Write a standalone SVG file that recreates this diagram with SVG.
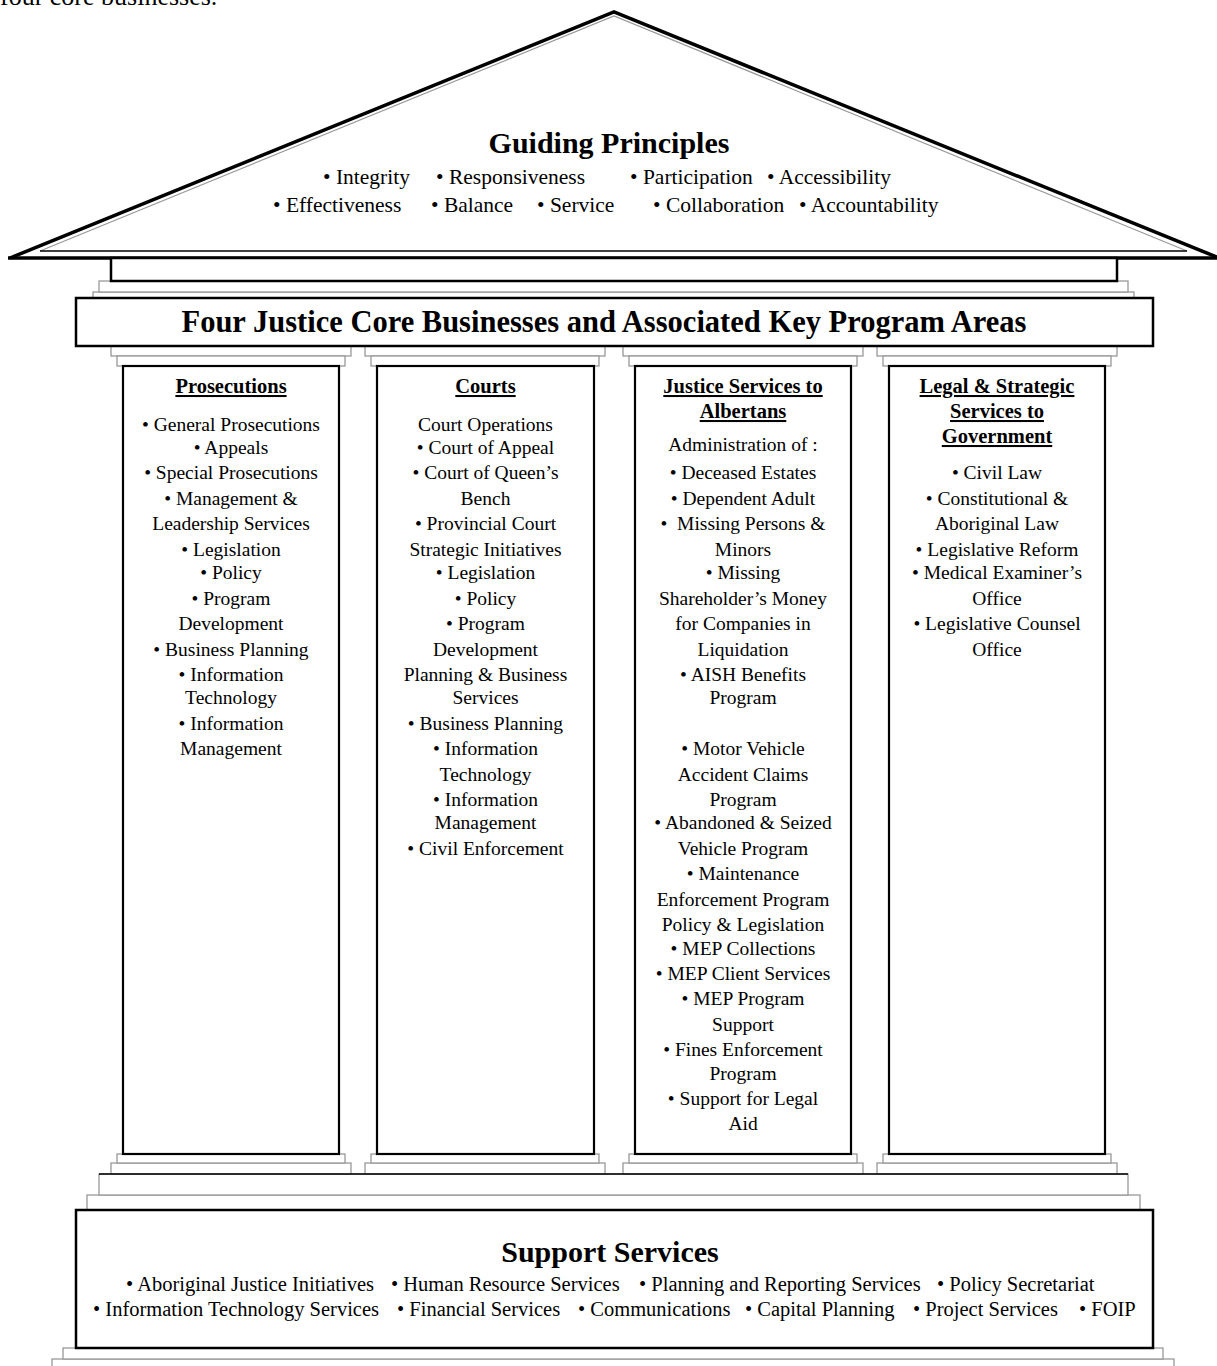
<svg xmlns="http://www.w3.org/2000/svg" width="1217" height="1366" viewBox="0 0 1217 1366">
<style>
text{font-family:"Liberation Serif","Times New Roman",serif;fill:#000}
.h1{font-size:30px;font-weight:bold}
.gp{font-size:21.5px}
.ss{font-size:20.5px}
.ch{font-size:20.5px;font-weight:bold;text-decoration:underline;text-anchor:middle}
.ct{font-size:19.5px;text-anchor:middle}
.box{fill:#fff;stroke:#000;stroke-width:2.5}
.col{fill:#fff;stroke:#000;stroke-width:2.2}
.step{fill:#fff;stroke:#999;stroke-width:1.3}
</style>
<rect width="1217" height="1366" fill="#fff"/>
<text x="0" y="5" style="font-size:26px">four core businesses.</text>

<g id="roof">
<polygon points="10,258 614,12 1219,258" fill="#fff" stroke="none"/>
<polyline points="40,251 614,16 1187,251" fill="none" stroke="#999" stroke-width="1.2"/>
<line x1="40" y1="251" x2="1187" y2="251" stroke="#000" stroke-width="1.5"/>
<polyline points="10,258 614,12 1219,258" fill="none" stroke="#000" stroke-width="3.5" stroke-linejoin="miter"/>
<line x1="8" y1="258" x2="1217" y2="258" stroke="#000" stroke-width="3.5"/>
<text class="h1" x="609" y="153" text-anchor="middle">Guiding Principles</text>
<text class="gp" y="184"><tspan x="323">• Integrity</tspan><tspan x="436">• Responsiveness</tspan><tspan x="630">• Participation</tspan><tspan x="767">• Accessibility</tspan></text>
<text class="gp" y="212"><tspan x="273">• Effectiveness</tspan><tspan x="431">• Balance</tspan><tspan x="537">• Service</tspan><tspan x="653">• Collaboration</tspan><tspan x="799">• Accountability</tspan></text>
</g>

<g id="entablature">
<rect class="step" x="93" y="292" width="1041" height="6"/>
<rect class="step" x="99" y="281" width="1029" height="11"/>
<rect class="box" x="111" y="258" width="1006" height="23"/>
</g>

<g id="column-capitals">
<rect class="step" x="111" y="346" width="240" height="10"/>
<rect class="step" x="117" y="356" width="228" height="10"/>
<rect class="step" x="365" y="346" width="240" height="10"/>
<rect class="step" x="371" y="356" width="228" height="10"/>
<rect class="step" x="623" y="346" width="240" height="10"/>
<rect class="step" x="629" y="356" width="228" height="10"/>
<rect class="step" x="877" y="346" width="240" height="10"/>
<rect class="step" x="883" y="356" width="228" height="10"/>
</g>

<g id="title-box">
<rect class="box" x="76" y="298" width="1077" height="48"/>
<text class="h1" x="604" y="332" text-anchor="middle" style="font-size:30.5px">Four Justice Core Businesses and Associated Key Program Areas</text>
</g>

<g id="base-steps">
<rect class="step" x="52" y="1359" width="1122" height="14"/>
<rect class="step" x="63" y="1348" width="1100" height="11"/>
<rect class="step" x="87" y="1195" width="1053" height="15"/>
<rect class="step" x="99" y="1174" width="1029" height="21"/>
<rect class="step" x="111" y="1163" width="240" height="11"/>
<rect class="step" x="117" y="1154" width="228" height="9"/>
<rect class="step" x="365" y="1163" width="240" height="11"/>
<rect class="step" x="371" y="1154" width="228" height="9"/>
<rect class="step" x="623" y="1163" width="240" height="11"/>
<rect class="step" x="629" y="1154" width="228" height="9"/>
<rect class="step" x="877" y="1163" width="240" height="11"/>
<rect class="step" x="883" y="1154" width="228" height="9"/>
<line x1="99" y1="1174" x2="1128" y2="1174" stroke="#000" stroke-width="1.5"/>
</g>

<g id="col-prosecutions">
<rect class="col" x="123" y="366" width="216" height="788"/>
<text class="ch" x="231" y="393">Prosecutions</text>
<text class="ct" x="231" y="431">• General Prosecutions</text>
<text class="ct" x="231" y="454">• Appeals</text>
<text class="ct" x="231" y="479">• Special Prosecutions</text>
<text class="ct" x="231" y="505">• Management &amp;</text>
<text class="ct" x="231" y="530">Leadership Services</text>
<text class="ct" x="231" y="556">• Legislation</text>
<text class="ct" x="231" y="579">• Policy</text>
<text class="ct" x="231" y="605">• Program</text>
<text class="ct" x="231" y="630">Development</text>
<text class="ct" x="231" y="656">• Business Planning</text>
<text class="ct" x="231" y="681">• Information</text>
<text class="ct" x="231" y="704">Technology</text>
<text class="ct" x="231" y="730">• Information</text>
<text class="ct" x="231" y="755">Management</text>
</g>

<g id="col-courts">
<rect class="col" x="377" y="366" width="217" height="788"/>
<text class="ch" x="485.5" y="393">Courts</text>
<text class="ct" x="485.5" y="431">Court Operations</text>
<text class="ct" x="485.5" y="454">• Court of Appeal</text>
<text class="ct" x="485.5" y="479">• Court of Queen’s</text>
<text class="ct" x="485.5" y="505">Bench</text>
<text class="ct" x="485.5" y="530">• Provincial Court</text>
<text class="ct" x="485.5" y="556">Strategic Initiatives</text>
<text class="ct" x="485.5" y="579">• Legislation</text>
<text class="ct" x="485.5" y="605">• Policy</text>
<text class="ct" x="485.5" y="630">• Program</text>
<text class="ct" x="485.5" y="656">Development</text>
<text class="ct" x="485.5" y="681">Planning &amp; Business</text>
<text class="ct" x="485.5" y="704">Services</text>
<text class="ct" x="485.5" y="730">• Business Planning</text>
<text class="ct" x="485.5" y="755">• Information</text>
<text class="ct" x="485.5" y="781">Technology</text>
<text class="ct" x="485.5" y="806">• Information</text>
<text class="ct" x="485.5" y="829">Management</text>
<text class="ct" x="485.5" y="855">• Civil Enforcement</text>
</g>

<g id="col-justice-services">
<rect class="col" x="635" y="366" width="216" height="788"/>
<text class="ch" x="743" y="393">Justice Services to</text>
<text class="ch" x="743" y="418">Albertans</text>
<text class="ct" x="743" y="451">Administration of :</text>
<text class="ct" x="743" y="479">• Deceased Estates</text>
<text class="ct" x="743" y="505">• Dependent Adult</text>
<text class="ct" x="743" y="530">•&#160; Missing Persons &amp;</text>
<text class="ct" x="743" y="556">Minors</text>
<text class="ct" x="743" y="579">• Missing</text>
<text class="ct" x="743" y="605">Shareholder’s Money</text>
<text class="ct" x="743" y="630">for Companies in</text>
<text class="ct" x="743" y="656">Liquidation</text>
<text class="ct" x="743" y="681">• AISH Benefits</text>
<text class="ct" x="743" y="704">Program</text>
<text class="ct" x="743" y="755">• Motor Vehicle</text>
<text class="ct" x="743" y="781">Accident Claims</text>
<text class="ct" x="743" y="806">Program</text>
<text class="ct" x="743" y="829">• Abandoned &amp; Seized</text>
<text class="ct" x="743" y="855">Vehicle Program</text>
<text class="ct" x="743" y="880">• Maintenance</text>
<text class="ct" x="743" y="906">Enforcement Program</text>
<text class="ct" x="743" y="931">Policy &amp; Legislation</text>
<text class="ct" x="743" y="955">• MEP Collections</text>
<text class="ct" x="743" y="980">• MEP Client Services</text>
<text class="ct" x="743" y="1005">• MEP Program</text>
<text class="ct" x="743" y="1031">Support</text>
<text class="ct" x="743" y="1056">• Fines Enforcement</text>
<text class="ct" x="743" y="1080">Program</text>
<text class="ct" x="743" y="1105">• Support for Legal</text>
<text class="ct" x="743" y="1130">Aid</text>
</g>

<g id="col-legal-strategic">
<rect class="col" x="889" y="366" width="216" height="788"/>
<text class="ch" x="997" y="393">Legal &amp; Strategic</text>
<text class="ch" x="997" y="418">Services to</text>
<text class="ch" x="997" y="443">Government</text>
<text class="ct" x="997" y="479">• Civil Law</text>
<text class="ct" x="997" y="505">• Constitutional &amp;</text>
<text class="ct" x="997" y="530">Aboriginal Law</text>
<text class="ct" x="997" y="556">• Legislative Reform</text>
<text class="ct" x="997" y="579">• Medical Examiner’s</text>
<text class="ct" x="997" y="605">Office</text>
<text class="ct" x="997" y="630">• Legislative Counsel</text>
<text class="ct" x="997" y="656">Office</text>
</g>

<g id="support-services">
<rect class="box" x="76" y="1210" width="1077" height="138"/>
<text class="h1" x="610" y="1262" text-anchor="middle">Support Services</text>
<text class="ss" y="1291"><tspan x="126">• Aboriginal Justice Initiatives</tspan><tspan x="391">• Human Resource Services</tspan><tspan x="639">• Planning and Reporting Services</tspan><tspan x="937">• Policy Secretariat</tspan></text>
<text class="ss" y="1316"><tspan x="93">• Information Technology Services</tspan><tspan x="397">• Financial Services</tspan><tspan x="578">• Communications</tspan><tspan x="745">• Capital Planning</tspan><tspan x="913">• Project Services</tspan><tspan x="1079">• FOIP</tspan></text>
</g>

<g id="connectors"></g>
</svg>
